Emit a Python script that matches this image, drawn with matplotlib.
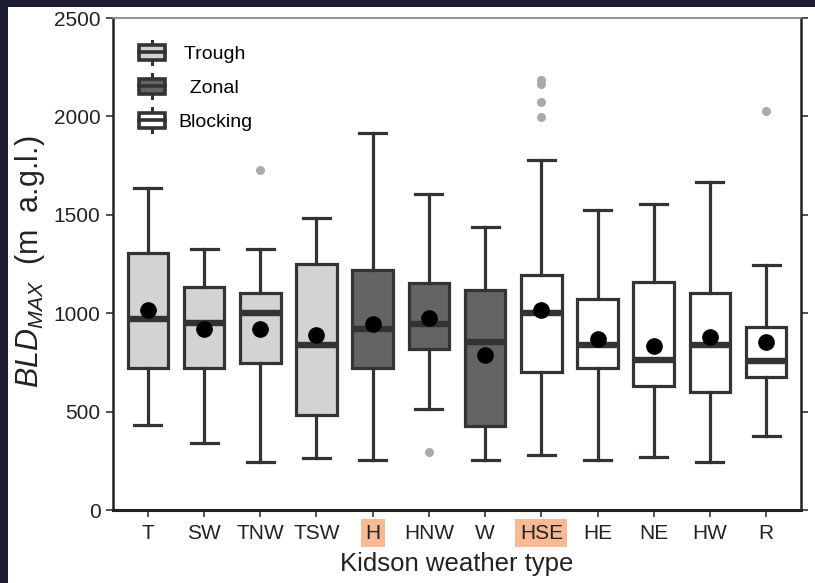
import matplotlib
matplotlib.use("Agg")
import matplotlib.pyplot as plt
from matplotlib.patches import Rectangle, Patch
from matplotlib.lines import Line2D
from matplotlib.legend_handler import HandlerBase

# --- data --------------------------------------------------------------------
TYPES = ["T", "SW", "TNW", "TSW", "H", "HNW", "W", "HSE", "HE", "NE", "HW", "R"]
GROUP = ["Trough"] * 4 + ["Zonal"] * 3 + ["Blocking"] * 5
WHISLO = [432, 342, 242, 263, 254, 512, 254, 279, 254, 271, 245, 376]
Q1 = [720, 720, 745, 483, 720, 816, 427, 703, 720, 630, 598, 674]
MED = [969, 952, 999, 838, 918, 943, 855, 999, 838, 762, 838, 759]
Q3 = [1304, 1135, 1101, 1250, 1219, 1152, 1118, 1194, 1070, 1160, 1104, 931]
WHISHI = [1635, 1326, 1326, 1485, 1914, 1606, 1436, 1778, 1524, 1555, 1665, 1245]
MEAN = [1016, 918, 920, 889, 945, 977, 788, 1016, 867, 835, 877, 855]
FLIERS = {"TNW": [1727], "HNW": [293], "HSE": [2185, 2165, 2075, 1995], "R": [2027]}
HIGHLIGHT = ["H", "HSE"]

GROUP_COLORS = {"Trough": "#d3d3d3", "Zonal": "#646464", "Blocking": "#ffffff"}
LEGEND_LABELS = {"Trough": " Trough", "Zonal": "  Zonal", "Blocking": "Blocking"}
EDGE = "#333333"

plt.rcParams.update({
    "font.family": ["Liberation Sans", "DejaVu Sans"],
    "mathtext.fontset": "custom",
    "mathtext.it": "Liberation Sans:italic",
    "mathtext.rm": "Liberation Sans",
})


class BoxHandler(HandlerBase):
    """Draw a tiny box-and-whisker glyph as legend handle."""

    def create_artists(self, legend, orig_handle, xdescent, ydescent,
                       width, height, fontsize, trans):
        x0, y0 = -xdescent, -ydescent
        cx = x0 + width / 2
        lo, hi = y0 + 0.18 * height, y0 + 0.82 * height
        whisk = Line2D([cx, cx], [y0, y0 + height], color=EDGE, lw=2.2,
                       transform=trans)
        box = Rectangle((x0 + 0.05 * width, lo), 0.9 * width, hi - lo,
                        facecolor=orig_handle.get_facecolor(), edgecolor=EDGE,
                        lw=2.6, transform=trans)
        med = Line2D([x0 + 0.05 * width, x0 + 0.95 * width], [y0 + height / 2] * 2,
                     color=EDGE, lw=2.6, transform=trans)
        return [whisk, box, med]


fig = plt.figure(figsize=(8.15, 5.83), dpi=100, facecolor="#1c1d31")
fig.add_artist(Rectangle((8 / 815, 0), 1, 1 - 7 / 583, transform=fig.transFigure,
                         facecolor="white", edgecolor="none", zorder=0))
ax = fig.add_axes([113 / 815, 73 / 583, 688 / 815, 492 / 583])

stats = []
for i, t in enumerate(TYPES):
    stats.append({
        "label": t, "whislo": WHISLO[i], "q1": Q1[i], "med": MED[i],
        "q3": Q3[i], "whishi": WHISHI[i], "mean": MEAN[i],
        "fliers": FLIERS.get(t, []),
    })

bp = ax.bxp(stats, positions=range(len(TYPES)), widths=0.72, capwidths=0.48,
            patch_artist=True, showmeans=True,
            boxprops=dict(edgecolor=EDGE, linewidth=2.3),
            whiskerprops=dict(color=EDGE, linewidth=2.3),
            capprops=dict(color=EDGE, linewidth=2.3),
            medianprops=dict(color=EDGE, linewidth=4.6, solid_capstyle="butt"),
            meanprops=dict(marker="o", markerfacecolor="black",
                           markeredgecolor="black", markersize=11),
            flierprops=dict(marker="o", markerfacecolor="#aaaaaa",
                            markeredgecolor="none", markersize=6.5))
for box, g in zip(bp["boxes"], GROUP):
    box.set_facecolor(GROUP_COLORS[g])

ax.set_xlim(-0.62, len(TYPES) - 0.38)
ax.set_ylim(0, 2500)
ax.set_yticks(range(0, 2501, 500))
ax.set_xticks(range(len(TYPES)))
ax.set_xticklabels(TYPES)
ax.tick_params(axis="both", labelsize=15, length=5, width=1.3, color="#444444",
               labelcolor="#222222")
ax.tick_params(axis="y", right=True, pad=4)
ax.tick_params(axis="x", pad=5)
for lab in ax.get_xticklabels():
    if lab.get_text() in HIGHLIGHT:
        lab.set_bbox(dict(boxstyle="square,pad=0.22", facecolor="#f9b993",
                          edgecolor="none"))

for side in ["left", "bottom", "right"]:
    ax.spines[side].set_color("#222222")
    ax.spines[side].set_linewidth(1.8)
ax.spines["bottom"].set_linewidth(2.2)
ax.spines["top"].set_color("#888888")
ax.spines["top"].set_linewidth(1.3)

ax.set_xlabel("Kidson weather type", fontsize=18.5, color="#222222")
ax.xaxis.set_label_coords(0.5, -0.085)
ax.set_ylabel(r"$BLD_{MAX}$  (m  a.g.l.)", fontsize=22, color="#222222")
ax.yaxis.set_label_coords(-0.096, 0.504)

handles = [Patch(facecolor=GROUP_COLORS[g]) for g in ["Trough", "Zonal", "Blocking"]]
labels = [LEGEND_LABELS[g] for g in ["Trough", "Zonal", "Blocking"]]
ax.legend(handles, labels, handler_map={Patch: BoxHandler()}, loc="upper left",
          bbox_to_anchor=(0.036, 0.954), frameon=False, fontsize=14,
          handlelength=1.45, handleheight=1.5, labelspacing=0.52,
          handletextpad=0.65, borderpad=0, borderaxespad=0)

fig.savefig("out.png", dpi=100, facecolor=fig.get_facecolor())
